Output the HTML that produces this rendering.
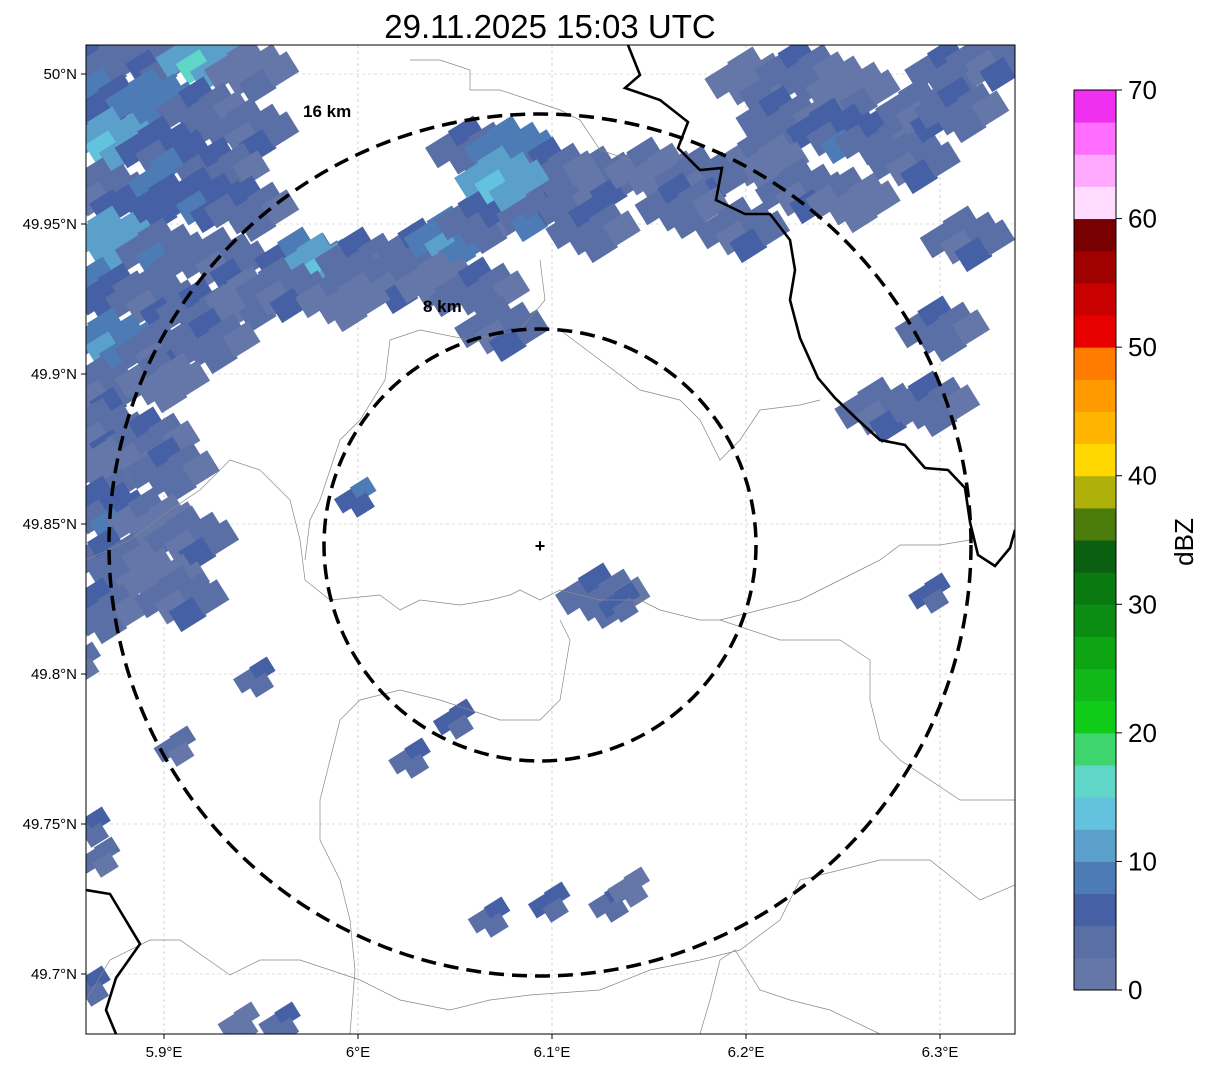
<!DOCTYPE html>
<html><head><meta charset="utf-8"><style>
body{margin:0;background:#fff;}
svg text{font-family:"Liberation Sans","DejaVu Sans",sans-serif;}
</style></head><body>
<svg id="chart" width="1207" height="1069" xmlns="http://www.w3.org/2000/svg">
<defs><clipPath id="plotclip"><rect x="86" y="45" width="929" height="989"/></clipPath></defs>
<text x="550" y="38" font-size="33" text-anchor="middle">29.11.2025 15:03 UTC</text>
<g id="grid"></g>
<g id="rain" clip-path="url(#plotclip)"></g>
<g clip-path="url(#plotclip)" fill="none">
<polyline stroke="#888" stroke-width="0.7" points="86,560 130,540 170,510 200,490 230,460 260,470 290,500 300,540 305,580 330,600 380,595 400,610 420,600 460,605 490,600 510,595 520,590 540,600 560,590 600,600 640,600 660,610 700,620 720,620 760,610 800,600 820,590 860,570 880,560 900,545 940,545 970,540"/>
<polyline stroke="#888" stroke-width="0.7" points="410,60 440,60 470,70 470,90 500,90 530,100 560,110 580,120 600,150 630,160"/>
<polyline stroke="#888" stroke-width="0.7" points="540,260 545,300 520,330 470,340 420,330 390,340 385,380 360,420 340,440 330,470 320,500 310,520 305,560"/>
<polyline stroke="#888" stroke-width="0.7" points="560,330 600,360 640,390 680,400 700,420 720,460 740,440 760,410 800,405 820,400"/>
<polyline stroke="#888" stroke-width="0.7" points="560,620 570,640 560,700 540,720 500,720 470,710 440,700 400,690 360,700 340,720 330,760 320,800 320,840 340,880 350,920 355,970 350,1034"/>
<polyline stroke="#888" stroke-width="0.7" points="86,1000 110,960 150,940 180,940 230,975 260,960 300,960 330,970 360,980 400,1000 450,1010 490,1000 530,995 600,990 650,970 700,960 740,950 780,920 800,880 840,870 880,860 930,860 980,900 1015,885"/>
<polyline stroke="#888" stroke-width="0.7" points="700,1034 710,1000 720,960 735,950 760,990 790,1000 830,1010 880,1034"/>
<polyline stroke="#888" stroke-width="0.7" points="720,620 780,640 840,640 870,660 870,700 880,740 900,760 960,800 1015,800"/>
<polyline stroke="#000" stroke-width="2.6" points="628,45 640,75 625,88 660,100 688,122 678,148 700,170 722,168 716,200 745,214 770,214 790,240 795,270 790,300 800,338 818,378 835,398 858,420 880,440 905,445 925,468 948,470 965,488 970,522 978,555 995,566 1010,548 1015,530"/>
<polyline stroke="#000" stroke-width="2.6" points="86,890 110,894 140,944 116,978 106,1010 116,1034"/>
</g>
<g fill="none" stroke="#000" stroke-width="3.5" stroke-dasharray="15,8">
<circle cx="540" cy="545" r="431"/>
<circle cx="540" cy="545" r="216"/>
</g>
<text x="303" y="117" font-size="17" font-weight="bold">16 km</text>
<text x="423" y="312" font-size="17" font-weight="bold">8 km</text>
<text x="540" y="552" font-size="18" font-weight="bold" text-anchor="middle">+</text>
<rect x="86" y="45" width="929" height="989" fill="none" stroke="#000" stroke-width="1"/>
<g id="axes"></g>
<g id="cbar"></g>
<text transform="translate(1193,542) rotate(-90)" font-size="26" text-anchor="middle">dBZ</text>
</svg>
<script>
const xTicks=[5.9,6.0,6.1,6.2,6.3];
const xTickLabels=["5.9°E","6°E","6.1°E","6.2°E","6.3°E"];
const yTicks=[50.0,49.95,49.9,49.85,49.8,49.75,49.7];
const yTickLabels=["50°N","49.95°N","49.9°N","49.85°N","49.8°N","49.75°N","49.7°N"];
const cbarTicks=[0,10,20,30,40,50,60,70];
const cbarColors=["#6477a8","#5a6fa5","#4660a5","#4c7bb5","#5aa0cb","#63c3de","#60d6c8","#3ed46e","#10cc18","#10b818","#0ea514","#0b8c12","#0a7a10","#0a6010","#4b7b0b","#b0b00a","#ffd800","#ffb400","#ff9a00","#ff7c00","#e80000","#c80000","#a00000","#780000","#ffdcff","#ffaaff","#ff6eff","#f030f0"];
const cellLon=[5.867,5.893,5.919,5.944,5.867,5.893,5.919,5.944,5.872,5.898,5.929,5.867,5.893,5.919,5.944,5.872,5.898,5.929,5.867,5.893,5.919,5.944,5.872,5.898,5.924,5.867,5.898,
5.867,5.893,5.872,5.903,5.867,5.893,5.913,5.872,5.898,5.867,5.908,
5.970,5.980,6.001,6.017,6.032,6.047,6.063,6.084,6.104,6.125,6.150,6.042,6.063,6.073,6.058,6.078,6.099,6.073,6.120,5.960,5.991,
6.202,6.228,6.254,6.218,6.244,6.269,6.285,6.207,6.228,6.254,6.290,6.305,6.326,6.310,6.176,6.166,6.197,
6.300,6.269,6.295,6.313,6.125,6.140,5.952,5.911,6.032,6.055,6.004,6.300,6.073,6.104,6.135,6.145,5.867,5.872,5.867,5.944,5.965,5.862];
const cellLat=[50.005,50.005,50.005,50.001,49.991,49.991,49.988,49.981,49.978,49.975,49.968,49.961,49.958,49.958,49.955,49.945,49.941,49.938,49.928,49.925,49.921,49.925,49.911,49.908,49.911,49.895,49.898,
49.881,49.878,49.868,49.868,49.855,49.851,49.845,49.838,49.831,49.821,49.825,
49.938,49.936,49.938,49.931,49.941,49.945,49.951,49.955,49.958,49.965,49.968,49.930,49.928,49.915,49.975,49.975,49.968,49.965,49.948,49.928,49.925,
49.998,50.001,49.995,49.985,49.981,49.978,49.971,49.971,49.961,49.958,49.988,50.001,50.005,49.988,49.965,49.956,49.948,
49.915,49.888,49.890,49.945,49.826,49.823,49.798,49.775,49.771,49.784,49.858,49.826,49.718,49.723,49.723,49.728,49.748,49.738,49.695,49.683,49.683,49.803];
const cellDbz=[3,8,15,2,5,12,4,3,14,5,3,4,6,10,3,14,8,4,5,3,4,2,12,4,3,4,2,
3,4,2,3,5,2,4,3,2,4,3,
5,15,4,3,4,13,3,5,4,3,2,2,4,3,4,12,4,16,3,3,2,
2,3,2,3,5,3,4,2,3,2,4,3,4,3,4,3,4,
4,3,4,3,4,5,3,3,3,5,6,5,3,5,3,2,3,4,3,2,3,3];

const NS="http://www.w3.org/2000/svg";
function xs(lon){return 164+(lon-5.9)*1940;}
function ys(lat){return 74+(50-lat)*3000;}
function cbY(v){return 990-v/70*900;}
function colorFor(d){let i=Math.floor(d/2.5);return cbarColors[Math.max(0,Math.min(27,i))];}
function mk(tag,parent,attrs){const e=document.createElementNS(NS,tag);for(const k in attrs)e.setAttribute(k,attrs[k]);parent.appendChild(e);return e;}

const grid=document.getElementById('grid');
xTicks.forEach(function(t){
  const l=mk('line',grid,{x1:xs(t),x2:xs(t),y1:45,y2:1034,stroke:'#bbb','stroke-width':0.6,'stroke-dasharray':'3,3'});
  
  
});
yTicks.forEach(function(t){
  const l=mk('line',grid,{x1:86,x2:1015,y1:ys(t),y2:ys(t),stroke:'#bbb','stroke-width':0.6,'stroke-dasharray':'3,3'});
  
  
});

const rain=document.getElementById('rain');
const offs=[[-24,-14,0],[4,-16,1],[-10,2,-1],[18,0,0],[-2,16,1],[26,14,-1]];
cellLon.forEach(function(lon,i){
  const cx=xs(lon),cy=ys(cellLat[i]);
  const isolated=i>=81;
  const g=mk('g',rain,{transform:'translate('+cx+','+cy+') rotate(-32)'});
  
  
  offs.forEach(function(o,j){
    if(isolated && j>2)return;
    let d=cellDbz[i]+o[2]*2.5*((i+j)%2);
    if(j!==2)d=Math.min(d,cellDbz[i]>6?cellDbz[i]-4:d);
    const sc=isolated?0.7:1;
    const r=mk('rect',g,{x:(o[0]-14)*sc,y:(o[1]-11)*sc,width:30*sc,height:24*sc,fill:colorFor(Math.max(0,d))});
    
    
  });
});

const axes=document.getElementById('axes');
xTicks.forEach(function(t,i){
  const l=mk('line',axes,{x1:xs(t),x2:xs(t),y1:1034,y2:1039,stroke:'#000'});
  
  
  const tx=mk('text',axes,{x:xs(t),y:1057,'font-size':15,'text-anchor':'middle'});
  tx.textContent=xTickLabels[i];
  
  
});
yTicks.forEach(function(t,i){
  const l=mk('line',axes,{x1:81,x2:86,y1:ys(t),y2:ys(t),stroke:'#000'});
  
  
  const tx=mk('text',axes,{x:77,y:ys(t)+5,'font-size':15,'text-anchor':'end'});
  tx.textContent=yTickLabels[i];
  
  
});

const cbar=document.getElementById('cbar');
cbarColors.forEach(function(c,i){
  const y1=cbY((i+1)*2.5),y0=cbY(i*2.5);
  const r=mk('rect',cbar,{x:1074,y:y1,width:42,height:y0-y1+0.5,fill:c});
  
  
});
const fr=mk('rect',cbar,{x:1074,y:90,width:42,height:900,fill:'none',stroke:'#000','stroke-width':1});


cbarTicks.forEach(function(t){
  const l=mk('line',cbar,{x1:1116,x2:1122,y1:cbY(t),y2:cbY(t),stroke:'#000'});
  
  
  const tx=mk('text',cbar,{x:1128,y:cbY(t)+9,'font-size':26});
  tx.textContent=String(t);
  
  
});
</script>
</body></html>
